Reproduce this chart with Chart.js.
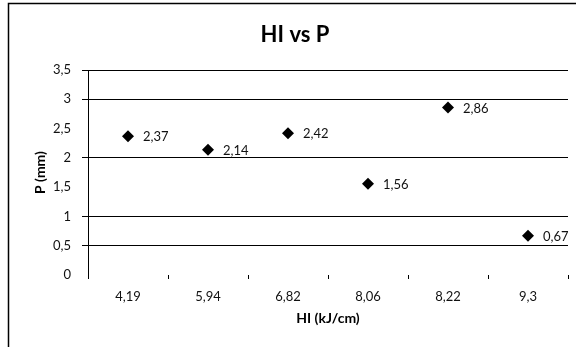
<!DOCTYPE html>
<html>
<head>
<meta charset="utf-8">
<script src="https://cdn.jsdelivr.net/npm/chart.js@4"></script>
<style>
  html, body { margin: 0; padding: 0; background: #fff; }
  #wrap { width: 576px; height: 347px; position: relative; }
</style>
</head>
<body>
<div id="wrap"><canvas id="c" width="576" height="347"></canvas></div>
<script>
const categories = ['4,19', '5,94', '6,82', '8,06', '8,22', '9,3'];
const pValues = [2.37, 2.14, 2.42, 1.56, 2.86, 0.67];
const titleText = 'HI vs P';
const xTitle = 'HI (kJ/cm)';
const yTitle = 'P (mm)';
const hiddenGridValues = [0, 1.5, 2.5];

const FONT = 'Lato, "Open Sans", "DejaVu Sans", sans-serif';
const fmt = v => String(v).replace('.', ',');

const frame = {
  id: 'frame',
  beforeDraw(chart) {
    const ctx = chart.ctx;
    ctx.save();
    ctx.fillStyle = '#fff';
    ctx.fillRect(0, 0, chart.width, chart.height);
    ctx.strokeStyle = '#000';
    ctx.lineWidth = 1.5;
    ctx.beginPath();
    ctx.moveTo(8.5, chart.height);
    ctx.lineTo(8.5, 3.5);
    ctx.lineTo(chart.width, 3.5);
    ctx.stroke();
    ctx.restore();
  }
};

const labels = {
  id: 'pointLabels',
  afterDatasetsDraw(chart) {
    const ctx = chart.ctx;
    const meta = chart.getDatasetMeta(0);
    ctx.save();
    ctx.font = '13px ' + FONT;
    ctx.fillStyle = '#111';
    ctx.textAlign = 'left';
    ctx.textBaseline = 'middle';
    meta.data.forEach((pt, i) => {
      ctx.fillText(fmt(chart.data.datasets[0].data[i]), pt.x + 15, pt.y + 1);
    });
    ctx.restore();
  }
};

new Chart(document.getElementById('c'), {
  type: 'line',
  data: {
    labels: categories,
    datasets: [{
      data: pValues,
      showLine: false,
      pointStyle: 'rectRot',
      pointRadius: 6,
      pointBackgroundColor: '#000',
      pointBorderColor: '#000',
      pointBorderWidth: 0
    }]
  },
  options: {
    responsive: false,
    animation: false,
    devicePixelRatio: 1,
    layout: { padding: { left: 22, right: 8, top: 0, bottom: 0 } },
    plugins: {
      legend: { display: false },
      tooltip: { enabled: false },
      title: {
        display: true,
        text: titleText,
        color: '#000',
        font: { family: FONT, size: 22, weight: 'bold', lineHeight: 1.2 },
        padding: { top: 22, bottom: 21.6 }
      }
    },
    scales: {
      x: {
        type: 'category',
        offset: true,
        afterFit(scale) { scale.height = 72; },
        grid: {
          offset: true,
          drawOnChartArea: false,
          drawTicks: true,
          tickLength: 4,
          color: '#000',
          lineWidth: 1
        },
        border: { display: false },
        ticks: {
          color: '#111',
          padding: 10,
          maxRotation: 0,
          font: { family: FONT, size: 13 }
        },
        title: {
          display: true,
          text: xTitle,
          color: '#000',
          font: { family: FONT, size: 14, weight: 'bold', lineHeight: 1.2 },
          padding: { top: 0, bottom: 20.6 }
        }
      },
      y: {
        min: 0,
        max: 3.5,
        afterFit(scale) { scale.width = 66; },
        ticks: {
          stepSize: 0.5,
          color: '#111',
          padding: 11,
          font: { family: FONT, size: 13 },
          callback: v => fmt(v)
        },
        grid: {
          color: ctx => hiddenGridValues.includes(ctx.tick && ctx.tick.value) ? 'rgba(0,0,0,0)' : '#000',
          lineWidth: 1,
          tickLength: 6
        },
        border: { display: true, color: '#000', width: 1 },
        title: {
          display: true,
          text: yTitle,
          color: '#000',
          font: { family: FONT, size: 14, weight: 'bold', lineHeight: 1.2 },
          padding: { top: 9.6, bottom: 0 }
        }
      }
    }
  },
  plugins: [frame, labels]
});
</script>
</body>
</html>
